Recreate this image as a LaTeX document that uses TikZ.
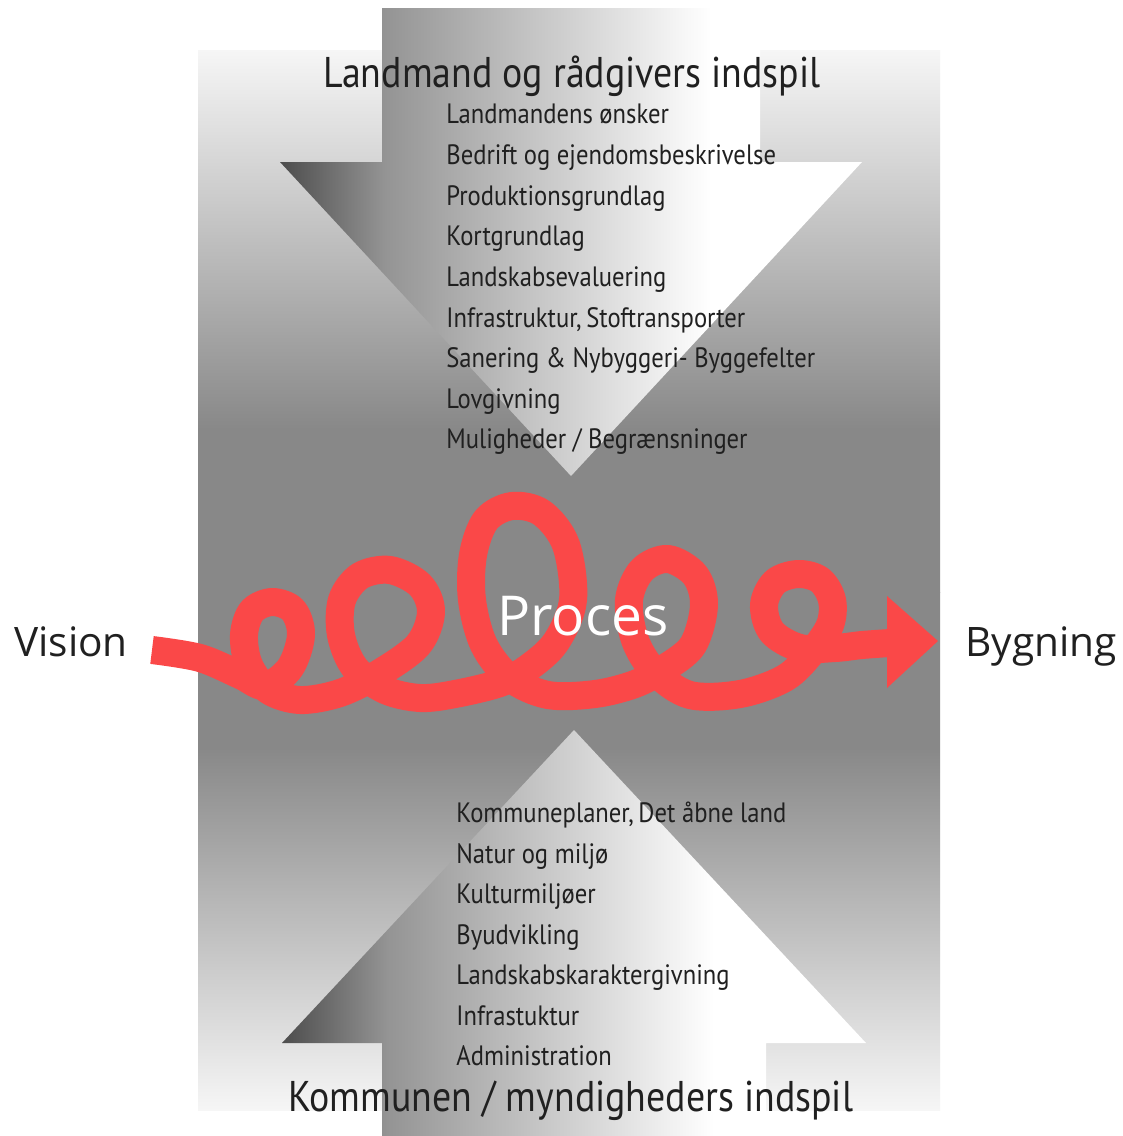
\documentclass[tikz,border=0pt]{standalone}
\usepackage{fontspec}
\setmainfont[FakeStretch=0.88]{PT Sans}
\newfontfamily\segoe{Open Sans}
\definecolor{curlred}{RGB}{250,72,72}
\definecolor{txt}{RGB}{32,32,32}
\definecolor{midgray}{RGB}{136,136,136}
\definecolor{topgray}{RGB}{246,246,246}
\pgfdeclarehorizontalshading{arrowshade}{100bp}{%
  color(0bp)=(black!70); color(25bp)=(black!70); color(34bp)=(black!42);
  color(44bp)=(black!27); color(54bp)=(black!12); color(62bp)=(white); color(100bp)=(white)}
\pgfdeclareverticalshading{panelup}{100bp}{%
  color(0bp)=(midgray); color(25bp)=(midgray); color(40bp)=(midgray); color(75bp)=(topgray); color(100bp)=(topgray)}
\pgfdeclareverticalshading{paneldown}{100bp}{%
  color(0bp)=(topgray); color(25bp)=(topgray); color(60bp)=(midgray); color(75bp)=(midgray); color(100bp)=(midgray)}
\begin{document}
\begin{tikzpicture}[x=0.5pt,y=-0.5pt,
  itemtext/.style={anchor=base west,inner sep=0pt,font=\fontsize{14}{16}\selectfont,text=txt},
  titletext/.style={anchor=base west,inner sep=0pt,font=\fontsize{21.5}{24}\selectfont,text=txt},
  sidetext/.style={anchor=base west,inner sep=0pt,font=\segoe\fontsize{20.3}{24}\selectfont,text=txt},
  bigarrow/.style={shading=arrowshade},
  curl/.style={draw=curlred,line width=14pt,line join=round}]
\useasboundingbox (0,0) rectangle (1123,1136);
\fill[white] (0,0) rectangle (1123,1136);
% background panels
\shade[shading=panelup] (198,50) rectangle (940,592);
\shade[shading=paneldown] (198,592) rectangle (940,1110);
% big arrows
\shade[bigarrow] (382,8) -- (760,8) -- (760,162) -- (862,162) -- (571,476) -- (280,162) -- (382,162) -- cycle;
\shade[bigarrow] (382,1136) -- (766,1136) -- (766,1043) -- (866,1043) -- (574,730) -- (282,1043) -- (382,1043) -- cycle;
% titles
\node[titletext] (toptitle) at (323,87) {Landmand og rådgivers indspil};
\node[titletext] (bottitle) at (288,1111) {Kommunen / myndigheders indspil};
% top list
\node[itemtext] (t1) at (446,123) {Landmandens ønsker};
\node[itemtext] (t2) at (446,164) {Bedrift og ejendomsbeskrivelse};
\node[itemtext] (t3) at (446,205) {Produktionsgrundlag};
\node[itemtext] (t4) at (446,245) {Kortgrundlag};
\node[itemtext] (t5) at (446,286) {Landskabsevaluering};
\node[itemtext] (t6) at (446,327) {Infrastruktur,\kern-1pt\ Stoftransporter};
\node[itemtext] (t7) at (446,367) {Sanering \& Nybyggeri- Byggefelter};
\node[itemtext] (t8) at (446,408) {Lovgivning};
\node[itemtext] (t9) at (446,448) {Muligheder / Begrænsninger};
% bottom list
\node[itemtext] (b1) at (456,822) {Kommuneplaner,\kern-1pt\ Det åbne land};
\node[itemtext] (b2) at (456,863) {Natur og miljø};
\node[itemtext] (b3) at (456,903) {Kulturmiljøer};
\node[itemtext] (b4) at (456,944) {Byudvikling};
\node[itemtext] (b5) at (456,984) {Landskabskaraktergivning};
\node[itemtext] (b6) at (456,1025) {Infrastuktur};
\node[itemtext] (b7) at (456,1065) {Administration};
% side labels
\node[sidetext] (vision) at (14,656) {Vision};
\node[sidetext] (bygning) at (965,656) {Bygning};
\coordinate (curlstart) at (152,650);
\coordinate (headbase) at (890,643);
\coordinate (headtop) at (887,596);
\coordinate (headbot) at (887,688);
\coordinate (curlend) at (938,641);
% curly process arrow
\draw[curl] plot[smooth,tension=0.55] coordinates {
 (curlstart) (200,658) (240,675) (265,686) (290,668) (301,635) (293,610) (272,602) (252,611) (244,635) (249,665) (268,690) (300,700) (340,693)
 (378,674) (418,645) (431,612) (420,585) (390,570) (360,576) (342,600) (341,635) (355,668) (385,690) (420,698) (455,694)
 (500,683) (528,668) (556,642) (573,600) (566,545) (542,513) (512,506) (486,520) (473,555) (472,600) (484,645) (510,678) (548,695) (595,694)
 (635,684) (665,668) (693,645) (704,605) (695,575) (668,559) (642,570) (629,600) (635,640) (655,672) (690,695) (740,694)
 (785,678) (812,652) (830,625) (832,600) (820,580) (798,574) (775,582) (764,605) (772,632) (800,648) (835,648) (862,645) (headbase)};
\fill[curlred] (headtop) -- (curlend) -- (headbot) -- cycle;
\node[anchor=base west,inner sep=0pt,font=\segoe\fontsize{27.5}{30}\selectfont,text=white] (proces) at (497,635) {Proces};
\end{tikzpicture}
\end{document}
